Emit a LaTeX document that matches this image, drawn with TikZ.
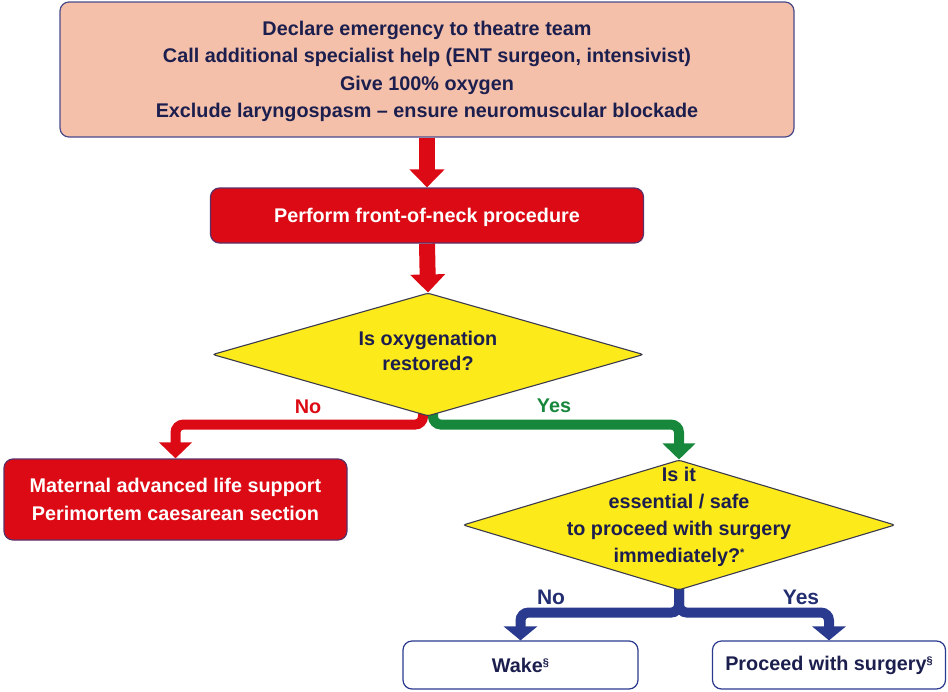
\documentclass[tikz,border=0pt]{standalone}
\usepackage{fontspec}
\setmainfont{Liberation Sans}
\usetikzlibrary{shapes.geometric,arrows.meta,backgrounds,calc}

\definecolor{peach}{HTML}{F4C0AA}
\definecolor{alarmred}{HTML}{DC0A14}
\definecolor{qyellow}{HTML}{FDEA1B}
\definecolor{okgreen}{HTML}{17873B}
\definecolor{navyarrow}{HTML}{2A3A8E}
\definecolor{inktext}{HTML}{1C1F4E}
\definecolor{boxedge}{HTML}{4A4A8A}
\definecolor{rededge}{HTML}{5A3068}
\definecolor{diamedge}{HTML}{3A3A4E}

% small raised footnote marks
\newcommand{\fnmark}[1]{\raisebox{6pt}{\fontsize{11}{11}\selectfont #1}}

\tikzset{
  basefont/.style={font=\bfseries\fontsize{19.8}{27.5}\selectfont, align=center},
  actionbox/.style={basefont, rectangle, rounded corners=9pt, line width=1.2pt, inner sep=0pt},
  topbox/.style={actionbox, fill=peach, draw=boxedge, text=inktext},
  redbox/.style={actionbox, fill=alarmred, draw=rededge, text=white},
  endbox/.style={actionbox, fill=white, draw=navyarrow, text=inktext},
  question/.style={diamond, fill=qyellow, draw=diamedge, line width=1.1pt, rounded corners=2.5pt, inner sep=0pt},
  qtext/.style={basefont, text=inktext, inner sep=0pt},
  mainflow/.style={draw=alarmred, line width=16pt, -{Triangle[width=34pt,length=18pt]}},
  branch/.style={line width=10pt, rounded corners=8pt, -{Triangle[width=32pt,length=16pt]}},
  choice/.style={font=\bfseries\fontsize{19.8}{22}\selectfont, inner sep=0pt},
  navychoice/.style={font=\bfseries\fontsize{21}{24}\selectfont, text=navyarrow!80!black, inner sep=0pt},
}

\begin{document}
\begin{tikzpicture}[x=1pt, y=-1pt]
  \useasboundingbox (0,0) rectangle (948,691);

  % action boxes
  \node[topbox, minimum width=734pt, minimum height=135pt] (top) at (427,69.5) {};
  \node[basefont, text=inktext, inner sep=0pt] (toptext) at (427,71.5)
    {Declare emergency to theatre team\\
     Call additional specialist help (ENT surgeon, intensivist)\\
     Give 100\% oxygen\\
     Exclude laryngospasm – ensure neuromuscular blockade};
  \node[redbox, minimum width=433pt, minimum height=55pt, text depth=0.5pt] (fona) at (427,215.5)
    {Perform front-of-neck procedure};
  \node[redbox, minimum width=343pt, minimum height=81pt] (mals) at (175.5,499.5)
    {Maternal advanced life support\\ Perimortem caesarean section};
  \node[endbox, minimum width=235pt, minimum height=48pt] (wake) at (520.5,665)
    {Wake\fnmark{§}};
  \node[endbox, minimum width=233pt, minimum height=48pt] (go) at (829,665)
    {Proceed with surgery\fnmark{§}};

  % decision diamonds
  \node[question, minimum width=431pt, minimum height=123pt] (oxy) at (428,354.5) {};
  \node[qtext, font=\bfseries\fontsize{19.8}{24.5}\selectfont] (oxytext) at (428,351) {Is oxygenation\\ restored?};
  \node[question, minimum width=432pt, minimum height=130pt] (safe) at (679,525) {};
  \node[qtext, font=\bfseries\fontsize{19.8}{27}\selectfont] (safetext) at (679,517)
    {Is it\\ essential / safe\\ to proceed with surgery\\ immediately?\fnmark{*}};

  % branch labels
  \node[choice, text=alarmred] (nolab) at (308,407) {No};
  \node[choice, text=okgreen] (yeslab) at (554,406) {Yes};
  \node[navychoice] (no2) at (551,597) {No};
  \node[navychoice] (yes2) at (801,597) {Yes};

  \begin{scope}[on background layer]
    \draw[mainflow] (top.south) -- (top.south |- fona.north);
    \draw[mainflow] (fona.south) -- (oxy.north);

    \draw[branch, draw=alarmred] ($(oxy.south)+(-5,-12)$) -- ($(oxy.south)+(-5,8)$) -| (mals.north);
    \draw[branch, draw=okgreen] ($(oxy.south)+(5,-12)$) -- ($(oxy.south)+(5,8)$) -| (safe.north);

    \draw[branch, draw=navyarrow, -{Triangle[width=33pt,length=14pt]}]
      ($(safe.south)+(0,-12)$) -- ($(safe.south)+(0,22)$) -| (wake.north);
    \draw[branch, draw=navyarrow, -{Triangle[width=33pt,length=14pt]}]
      ($(safe.south)+(0,-12)$) -- ($(safe.south)+(0,22)$) -| (go.north);
  \end{scope}
\end{tikzpicture}
\end{document}
